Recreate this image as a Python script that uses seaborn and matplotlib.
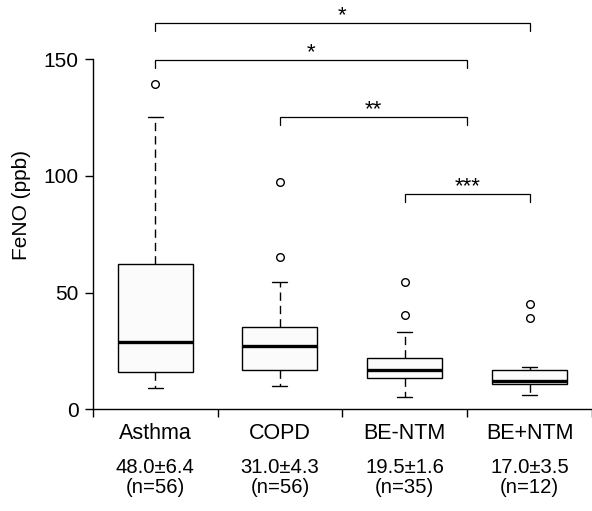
import matplotlib
matplotlib.use("Agg")
import matplotlib.pyplot as plt
import matplotlib.transforms as mtransforms
import numpy as np
import pandas as pd
import seaborn as sns

# ---- data ----
groups = ["Asthma", "COPD", "BE-NTM", "BE+NTM"]
stat_labels = ["48.0\u00b16.4\n(n=56)", "31.0\u00b14.3\n(n=56)",
               "19.5\u00b11.6\n(n=35)", "17.0\u00b13.5\n(n=12)"]
whisker_lo = [9.3, 10.1, 5.3, 6.1]
q1 = [15.8, 17.0, 13.4, 10.7]
median = [28.7, 27.0, 16.8, 12.0]
q3 = [62.2, 35.2, 22.1, 17.0]
whisker_hi = [125.0, 54.7, 33.0, 18.1]
outliers = [[139.4], [65.1, 97.2], [40.2, 54.5], [39.1, 45.2]]

# significance brackets: (left pos, right pos, bar height, label)
br_left = [0, 0, 1, 2]
br_right = [3, 2.5, 2.5, 3]
br_height = [165.3, 149.5, 125.0, 92.3]
br_label = ["*", "*", "**", "***"]
y_ticks = [0, 50, 100, 150]

# Build observation sets whose quartiles/whiskers/outliers reproduce the
# summary values above (4k+1 points, linear-interpolation percentiles).
rows = []
for g, lo, a, m, b, hi, out in zip(groups, whisker_lo, q1, median, q3,
                                    whisker_hi, outliers):
    k = len(out) + 1
    vals = [lo] + [a] * k + [m] * k + [b] * k + [hi] + list(out)
    rows += [(g, v) for v in vals]
df = pd.DataFrame(rows, columns=["group", "FeNO"])

sns.set_theme(style="white")
plt.rcParams["font.family"] = ["Liberation Sans", "DejaVu Sans"]
plt.rcParams["font.size"] = 15
plt.rcParams["text.color"] = "black"
plt.rcParams["axes.labelcolor"] = "black"
plt.rcParams["xtick.color"] = "black"
plt.rcParams["ytick.color"] = "black"

fig = plt.figure(figsize=(5.92, 5.11), dpi=100)
ax = fig.add_axes([0.1566, 0.199, 0.8434, 0.801])

lw = 1.0
sns.boxplot(
    data=df, x="group", y="FeNO", order=groups, ax=ax,
    width=0.6, whis=1.5, fill=True, color="#fbfbfb", linecolor="black",
    linewidth=lw,
    boxprops=dict(facecolor="#fbfbfb", edgecolor="black", linewidth=lw),
    medianprops=dict(color="black", linewidth=2.4),
    whiskerprops=dict(color="black", linewidth=lw, linestyle=(0, (6.0, 3.6))),
    capprops=dict(color="black", linewidth=lw),
    flierprops=dict(marker="o", markersize=5.5, markerfacecolor="none",
                    markeredgecolor="black", markeredgewidth=1.0),
)

# shorten caps to match the reference
for line in ax.lines:
    xd = np.asarray(line.get_xdata(), dtype=float)
    yd = np.asarray(line.get_ydata(), dtype=float)
    if len(xd) == 2 and np.isclose(yd[0], yd[1]) and not np.isclose(xd[0], xd[1]):
        c = xd.mean()
        w = abs(xd[1] - xd[0])
        if w < 0.35:  # caps (medians are full box width)
            line.set_xdata([c - 0.06, c + 0.06])

ax.set_xlim(-0.5, 3.5)
ax.set_ylim(0, 175.3)
ax.set_xlabel("")
ax.set_ylabel("FeNO (ppb)", fontsize=15, labelpad=9, color="black")

ax.spines["top"].set_visible(False)
ax.spines["right"].set_visible(False)
ax.spines["left"].set_bounds(0, 150)
for s in ("left", "bottom"):
    ax.spines[s].set_color("black")
    ax.spines[s].set_linewidth(1.0)

ax.set_yticks(y_ticks)
ax.set_yticklabels([str(t) for t in y_ticks], fontsize=15, color="black")
ax.set_xticks([-0.5, 0.5, 1.5, 2.5, 3.5])
ax.set_xticklabels([])
ax.tick_params(axis="both", which="both", direction="out", length=6,
               width=1.0, color="black", labelcolor="black",
               left=True, bottom=True, pad=4)

trans = mtransforms.blended_transform_factory(ax.transData, fig.transFigure)
for i, (g, s) in enumerate(zip(groups, stat_labels)):
    ax.text(i, 1 - 433 / 511, g, transform=trans, ha="center", va="center",
            fontsize=15.5, color="black")
    ax.text(i, 1 - 477.5 / 511, s, transform=trans, ha="center", va="center",
            fontsize=14.6, linespacing=1.02, color="black")

# significance brackets
leg = 3.3
for xl, xr, h, lab in zip(br_left, br_right, br_height, br_label):
    ax.plot([xl, xl, xr, xr], [h - leg, h, h, h - leg], color="black",
            lw=0.9, solid_joinstyle="miter", clip_on=False)
    ax.text((xl + xr) / 2, h - 1.3, lab, ha="center", va="bottom",
            fontsize=16, color="black", clip_on=False)

fig.savefig("out.png", dpi=100)
